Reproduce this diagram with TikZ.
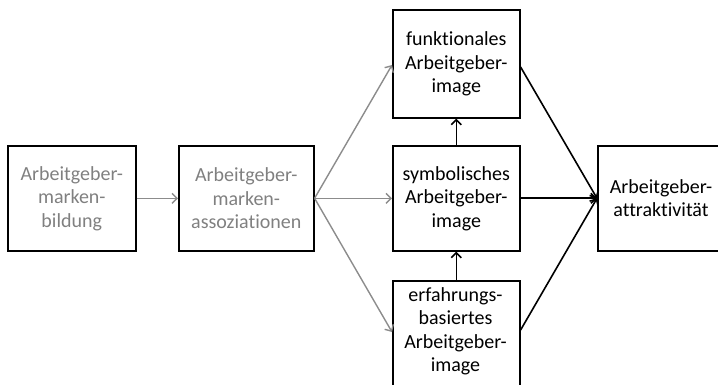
\documentclass[tikz,border=0pt]{standalone}
\usepackage{fontspec}
\setmainfont{Carlito}[Ligatures={NoCommon}]
\usetikzlibrary{arrows.meta,calc}
\definecolor{softgray}{RGB}{128,128,128}
\definecolor{arrowgray}{RGB}{140,140,140}
\tikzset{
  boxfont/.style={font=\fontsize{20}{23.5}\selectfont},
  box/.style={draw=black, line width=1.6pt, inner sep=0pt, anchor=north west,
    align=center, boxfont},
  graybox/.style={box, text=softgray},
  boxtext/.style={boxfont, align=center},
  grayarrow/.style={draw=arrowgray, line width=1.4pt, -{Straight Barb[length=5pt, width=10pt]}},
  blackarrow/.style={draw=black, line width=1.6pt, -{Straight Barb[length=5pt, width=10pt]}}
}
\begin{document}
\begin{tikzpicture}[x=1pt, y=-1pt]
\useasboundingbox (0,0) rectangle (718,385);
\begin{scope}
\clip (0,0) rectangle (718,385);
% left chain
\node[graybox, minimum width=128pt, minimum height=105pt] (bildung) at (7,145)
  {Arbeitgeber-\\marken-\\bildung};
\node[graybox, minimum width=135pt, minimum height=105pt] (assoz) at (178,145)
  {Arbeitgeber-\\marken-\\assoziationen};
% image column
\node[box, minimum width=127pt, minimum height=108pt] (funk) at (392,9)
  {funktionales\\Arbeitgeber-\\image};
\node[box, minimum width=127pt, minimum height=105pt] (symb) at (392,145)
  {symbolisches\\Arbeitgeber-\\image};
\node[box, minimum width=127pt, minimum height=120pt] (erf) at (392,280) {};
\node[boxtext, anchor=north] (erftext) at (455.5,284)
  {erfahrungs-\\basiertes\\Arbeitgeber-\\image};
% outcome
\node[box, minimum width=140pt, minimum height=105pt] (attr) at (597,145) {};
\node[boxtext] (attrtext) at (661,198)
  {Arbeitgeber-\\attraktivität};
% connectors
\coordinate (funkin) at ($(funk.north west)+(0,56)$);
\coordinate (funkout) at ($(funk.north east)+(0,58)$);
\coordinate (erfin) at ($(erf.north west)+(0,52)$);
\coordinate (erfout) at ($(erf.north east)+(0,50)$);
\draw[grayarrow] (bildung.east) -- (assoz.west);
\draw[grayarrow] (assoz.east) -- (funkin);
\draw[grayarrow] (assoz.east) -- (symb.west);
\draw[grayarrow] (assoz.east) -- (erfin);
\draw[blackarrow] (symb.north) -- (funk.south);
\draw[blackarrow] (erf.north) -- (symb.south);
\draw[blackarrow] (funkout) -- (attr.west);
\draw[blackarrow] (symb.east) -- (attr.west);
\draw[blackarrow] (erfout) -- (attr.west);
\end{scope}
\end{tikzpicture}
\end{document}
